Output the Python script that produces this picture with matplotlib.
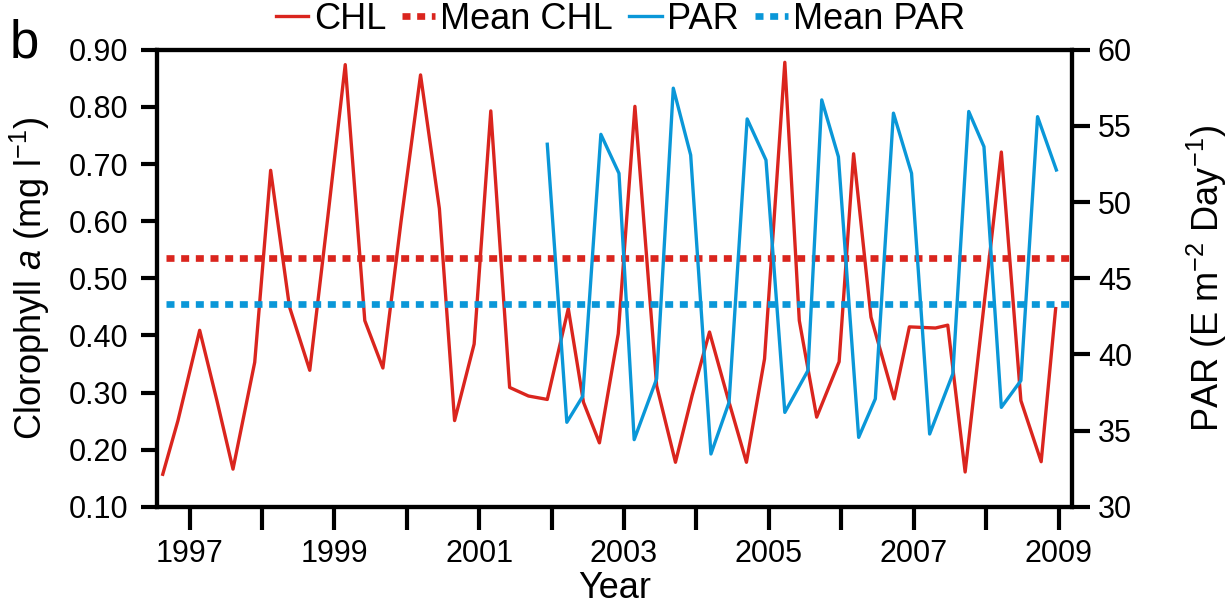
import matplotlib
matplotlib.use('Agg')
import matplotlib.pyplot as plt
from matplotlib.ticker import FixedLocator, NullFormatter

plt.rcParams['font.family'] = ['Liberation Sans', 'DejaVu Sans']
plt.rcParams['mathtext.fontset'] = 'custom'
plt.rcParams['mathtext.rm'] = 'Liberation Sans'
plt.rcParams['mathtext.it'] = 'Liberation Sans:italic'

# chlorophyll (left axis)
chl_year = [1996.63, 1996.84, 1997.14, 1997.38, 1997.60, 1997.90, 1998.12, 1998.38,
            1998.66, 1998.91, 1999.15, 1999.42, 1999.67, 1999.92, 2000.19, 2000.45,
            2000.66, 2000.93, 2001.16, 2001.42, 2001.68, 2001.94, 2002.23, 2002.44,
            2002.66, 2002.92, 2003.15, 2003.45, 2003.71, 2003.94, 2004.18, 2004.43,
            2004.69, 2004.94, 2005.22, 2005.42, 2005.66, 2005.97, 2006.17, 2006.41,
            2006.73, 2006.94, 2007.30, 2007.47, 2007.71, 2007.96, 2008.21, 2008.48,
            2008.76, 2008.96]
chl = [0.157, 0.251, 0.409, 0.285, 0.166, 0.353, 0.689, 0.450,
       0.339, 0.608, 0.874, 0.426, 0.343, 0.599, 0.856, 0.622,
       0.251, 0.385, 0.793, 0.309, 0.294, 0.288, 0.447, 0.283,
       0.212, 0.403, 0.801, 0.312, 0.178, 0.295, 0.406, 0.292,
       0.178, 0.359, 0.878, 0.426, 0.257, 0.354, 0.718, 0.432,
       0.289, 0.415, 0.413, 0.418, 0.161, 0.441, 0.721, 0.286,
       0.179, 0.447]

# PAR (right axis)
par_year = [2001.94, 2002.21, 2002.43, 2002.68, 2002.93, 2003.14, 2003.45, 2003.68,
            2003.92, 2004.20, 2004.45, 2004.70, 2004.96, 2005.22, 2005.54, 2005.73,
            2005.96, 2006.24, 2006.47, 2006.72, 2006.97, 2007.22, 2007.54, 2007.76,
            2007.97, 2008.21, 2008.48, 2008.71, 2008.97]
par = [53.80, 35.55, 37.26, 54.45, 51.89, 34.41, 38.40, 57.48,
       53.09, 33.47, 36.86, 55.46, 52.76, 36.20, 38.95, 56.71,
       52.98, 34.56, 37.09, 55.84, 51.89, 34.78, 38.73, 55.95,
       53.64, 36.53, 38.29, 55.61, 52.11]

mean_chl = 0.536
mean_par = 43.3

label_years = [1997, 1999, 2001, 2003, 2005, 2007, 2009]
other_years = [1998, 2000, 2002, 2004, 2006, 2008]

red = '#DA251E'
blue = '#0A97D8'
xmin, xmax = 1996.55, 2009.18

fig = plt.figure(figsize=(12.31, 6.07), dpi=100)
ax = fig.add_axes([0.1275, 0.165, 0.743, 0.753])
ax2 = ax.twinx()

l1, = ax.plot(chl_year, chl, color=red, lw=2.4, label='CHL')
l2 = ax.hlines(mean_chl, chl_year[0] + 0.05, xmax, color=red, lw=4.8,
               linestyles=(0, (1.2, 1.0)), label='Mean CHL')
l3, = ax2.plot(par_year, par, color=blue, lw=2.4, label='PAR')
l4 = ax2.hlines(mean_par, chl_year[0] + 0.05, xmax, color=blue, lw=4.8,
                linestyles=(0, (1.2, 1.0)), label='Mean PAR')

ax.set_xlim(xmin, xmax)
ax.set_ylim(0.10, 0.90)
ax2.set_ylim(30, 60)

ax.set_yticks([0.1, 0.2, 0.3, 0.4, 0.5, 0.6, 0.7, 0.8, 0.9])
ax.set_yticklabels(['%.2f' % v for v in ax.get_yticks()])
ax2.set_yticks([30, 35, 40, 45, 50, 55, 60])
ax.xaxis.set_major_locator(FixedLocator(label_years))
ax.xaxis.set_minor_locator(FixedLocator(other_years))
ax.xaxis.set_minor_formatter(NullFormatter())

for a in (ax, ax2):
    for s in a.spines.values():
        s.set_linewidth(3)
ax.tick_params(axis='y', direction='out', length=11.5, width=3, pad=9, labelsize=22)
ax.tick_params(axis='x', which='both', direction='out', length=16.5, width=3,
               pad=7, labelsize=22)
ax2.tick_params(axis='y', direction='out', length=13, width=3, pad=6, labelsize=22)

ax.set_xlabel('Year', fontsize=26, labelpad=1)
ax.set_ylabel(r'Clorophyll $a$ (mg l$^{-1}$)', fontsize=26, labelpad=12)
ax2.set_ylabel(r'PAR (E m$^{-2}$ Day$^{-1}$)', fontsize=26, labelpad=38)

fig.text(0.008, 0.905, 'b', fontsize=38)

fig.legend([l1, l2, l3, l4], ['CHL', 'Mean CHL', 'PAR', 'Mean PAR'],
           loc='center', bbox_to_anchor=(0.504, 0.968), ncol=4, frameon=False,
           fontsize=26, handlelength=0.9, handletextpad=0.15, columnspacing=0.45)

fig.savefig('out.png', dpi=100)
